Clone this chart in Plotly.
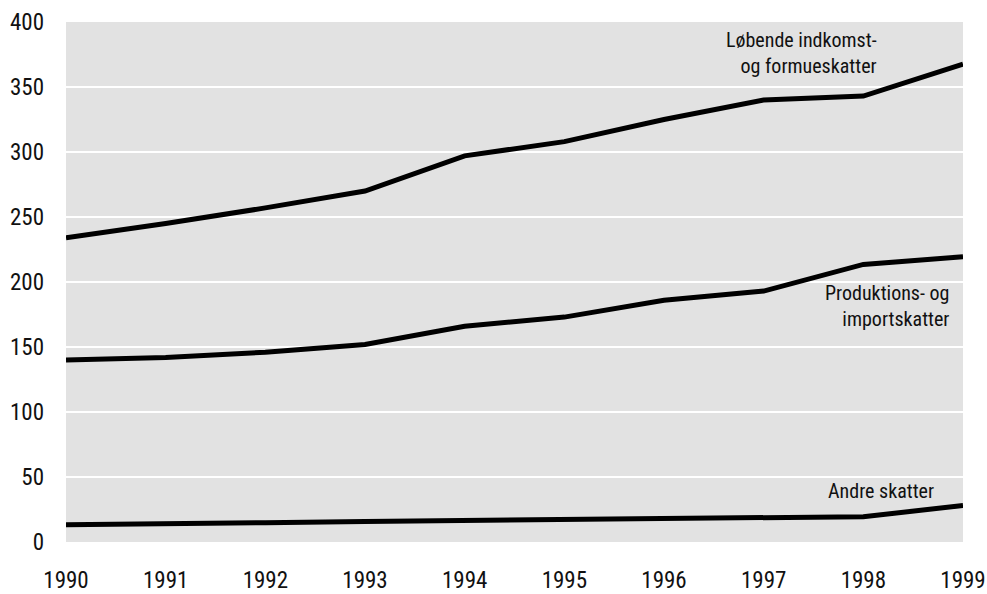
import plotly.graph_objects as go

# Years and tax revenue series (mia. kr.)
years = [1990, 1991, 1992, 1993, 1994, 1995, 1996, 1997, 1998, 1999]
lobende = [234, 245, 257, 270, 297, 308, 325, 340, 343, 367.5]
produktion = [140, 142, 146, 152, 166, 173, 186, 193, 213.5, 219.5]
andre = [13.3, 13.8, 14.8, 15.8, 16.5, 17.2, 18.0, 18.8, 19.5, 28]

y_ticks = [0, 50, 100, 150, 200, 250, 300, 350, 400]

FONT = "Roboto Condensed, Roboto, sans-serif"

fig = go.Figure()
for series in (lobende, produktion, andre):
    fig.add_trace(go.Scatter(
        x=years, y=series, mode="lines",
        line=dict(color="black", width=5),
        showlegend=False, hoverinfo="skip",
    ))

labels = [
    ("Løbende indkomst-<br>og formueskatter", 1998.16, 376.5),
    ("Produktions- og<br>importskatter", 1998.88, 181.5),
    ("Andre skatter", 1998.73, 39.2),
]
for text, x, y in labels:
    fig.add_annotation(
        x=x, y=y, text=text, showarrow=False,
        xanchor="right", yanchor="middle", align="right",
        font=dict(family=FONT, size=20, color="#111111"),
    )

fig.update_layout(
    width=987, height=594,
    margin=dict(l=66, r=24, t=22, b=52, autoexpand=False),
    plot_bgcolor="#e2e2e2",
    paper_bgcolor="white",
    font=dict(family=FONT, size=20, color="#111111"),
)
fig.update_xaxes(
    range=[1990, 1999], tickvals=years, ticktext=[str(y) for y in years],
    showgrid=False, zeroline=False, showline=False,
    automargin=False, ticklabeloverflow="allow",
    ticklabelstandoff=22,
    tickfont=dict(family=FONT, size=23),
)
fig.update_yaxes(
    range=[0, 400], tickvals=y_ticks,
    showgrid=True, gridcolor="white", gridwidth=2,
    zeroline=False, showline=False,
    automargin=False, ticklabeloverflow="allow",
    ticklabelstandoff=21,
    tickfont=dict(family=FONT, size=23),
)

fig.write_html("out.html")
